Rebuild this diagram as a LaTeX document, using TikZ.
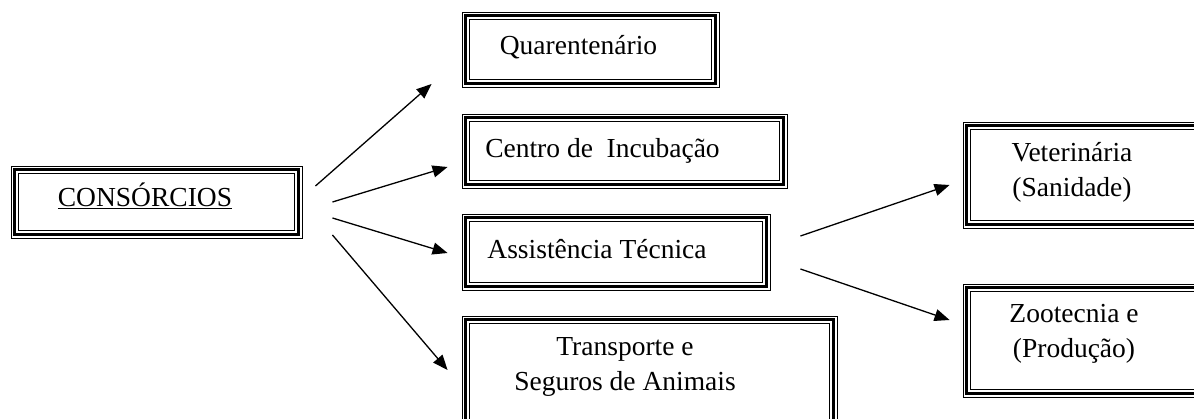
\documentclass[tikz,border=0pt]{standalone}
\usepackage{fontspec}
\setmainfont{Liberation Serif}
\usetikzlibrary{arrows.meta}

\begin{document}
\begin{tikzpicture}[
      x=1pt, y=-1pt,
      box/.style={draw, line width=0.9pt, inner sep=0pt,
        path picture={
          \draw[line width=2.8pt] ([shift={(3.8pt,3.8pt)}]path picture bounding box.south west) rectangle ([shift={(-3.8pt,-3.8pt)}]path picture bounding box.north east);
          \draw[line width=0.9pt] ([shift={(7.4pt,7.4pt)}]path picture bounding box.south west) rectangle ([shift={(-7.4pt,-7.4pt)}]path picture bounding box.north east);}},
      txt/.style={inner sep=0pt, align=center, font=\fontsize{27.5}{35}\selectfont},
      arr/.style={-{Triangle[length=15pt, width=12pt]}, line width=1.3pt}]
    \useasboundingbox (0,0) rectangle (1194,419);
    \node[box, minimum width=291pt, minimum height=72pt] (cons) at (156.5,202) {};
    \node[box, minimum width=257pt, minimum height=75pt] (quar) at (590.5,49.5) {};
    \node[box, minimum width=325pt, minimum height=74pt] (cent) at (624.5,151) {};
    \node[box, minimum width=308pt, minimum height=76pt] (assi) at (616,252) {};
    \node[box, minimum width=375pt, minimum height=116pt] (tran) at (649.5,374) {};
    \node[box, minimum width=247pt, minimum height=106pt] (vete) at (1086.5,175) {};
    \node[box, minimum width=247pt, minimum height=113pt] (zoot) at (1086.5,340.5) {};
    \node[txt, anchor=base] (consT) at (145,207) {\underline{CONSÓRCIOS}};
    \node[txt, anchor=base] (quarT) at (578.5,55) {Quarentenário};
    \node[txt, anchor=base] (centT) at (602.5,158) {Centro de~~Incubação};
    \node[txt, anchor=base] (assiT) at (597,259) {Assistência Técnica};
    \node[txt] (tranT) at (625,367) {Transporte e\\Seguros de Animais};
    \node[txt] (veteT) at (1072,172) {Veterinária\\(Sanidade)};
    \node[txt] (zootT) at (1074,334) {Zootecnia e\\(Produção)};
    \draw[arr] ([xshift=13pt, yshift=16pt]cons.east) -- ([xshift=-30pt, yshift=-34.5pt]quar.west);
    \draw[arr] ([xshift=30pt]cons.east) -- ([xshift=-14pt, yshift=-16pt]cent.west);
    \draw[arr] ([xshift=30pt, yshift=-16pt]cons.east) -- ([xshift=-14pt, yshift=-1pt]assi.west);
    \draw[arr] ([xshift=30pt, yshift=-33pt]cons.east) -- ([xshift=-14pt, yshift=4pt]tran.west);
    \draw[arr] ([xshift=30pt, yshift=16pt]assi.east) -- ([xshift=-13pt, yshift=-10pt]vete.west);
    \draw[arr] ([xshift=30pt, yshift=-17pt]assi.east) -- ([xshift=-13pt, yshift=20.5pt]zoot.west);
  \end{tikzpicture}
\end{document}
